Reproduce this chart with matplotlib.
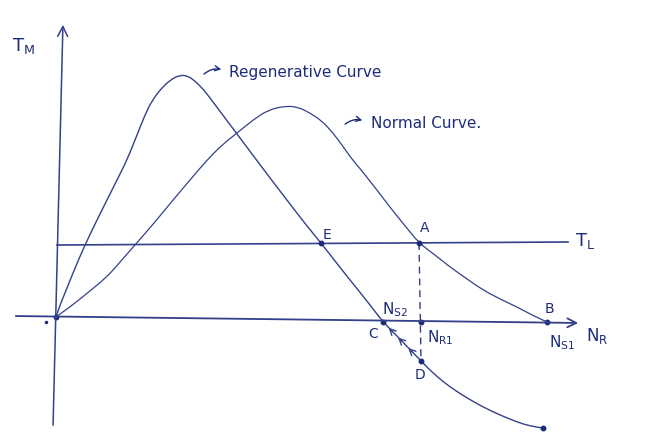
import numpy as np
import matplotlib.pyplot as plt
from matplotlib.path import Path
from matplotlib.patches import PathPatch

plt.rcParams['mathtext.default'] = 'regular'

# curves (pixel-like units, y grows downward)
regen_x = [56, 60, 65, 75, 85, 96, 107, 117, 127, 137, 147, 154, 160, 170, 180, 188, 195,
           204, 213, 225, 237, 252, 267, 280, 293, 307, 321, 335, 350, 367, 383, 400, 421,
           435, 450, 467, 483, 500, 517, 530, 543]
regen_y = [317, 305, 293, 268, 245, 222, 200, 180, 160, 135, 110, 98, 90, 80, 75, 76, 81,
           90, 102, 118, 134, 154, 174, 191, 208, 226, 243, 261, 280, 301, 322, 339, 361,
           375, 387, 398, 407, 415, 422, 426, 428]

normal_x = [56, 70, 85, 107, 120, 135, 155, 173, 190, 207, 222, 237, 253, 268, 285, 298,
            310, 322, 333, 342, 351, 362, 373, 383, 393, 406, 419, 435, 450, 467, 483, 500,
            517, 532, 547]
normal_y = [317, 307, 295, 277, 262, 245, 222, 200, 180, 160, 145, 133, 120, 110, 106, 107,
            113, 121, 133, 145, 158, 171, 185, 198, 211, 227, 243, 255, 267, 279, 290, 299,
            307, 315, 322]

# key points: name -> (x, y)
pts = {
    'O': (56, 317),
    'E': (321, 243),
    'A': (419, 243),
    'C': (383, 322),
    'NR1': (421, 322),
    'D': (421, 361),
    'B': (547, 322),
    'end': (543, 428),
}

line_c = '#33408a'
text_c = '#1d2c7a'


def smooth_path(xs, ys):
    """quadratic bezier through midpoints, so the sketch has no corners"""
    p = np.column_stack([xs, ys]).astype(float)
    verts = [p[0]]
    codes = [Path.MOVETO]
    for i in range(1, len(p) - 1):
        mid = (p[i] + p[i + 1]) / 2
        verts += [p[i], mid]
        codes += [Path.CURVE3, Path.CURVE3]
    verts.append(p[-1])
    codes.append(Path.LINETO)
    return Path(verts, codes)


fig = plt.figure(figsize=(6.58, 4.41), dpi=100)
ax = fig.add_axes([0, 0, 1, 1])
ax.set_xlim(0, 658)
ax.set_ylim(441, 0)
ax.axis('off')

# axes of the sketch
ax.annotate('', xy=(63, 22), xytext=(53, 428),
            arrowprops=dict(arrowstyle='->', color=line_c, lw=1.1, mutation_scale=18))
ax.annotate('', xy=(581, 323), xytext=(13, 316),
            arrowprops=dict(arrowstyle='->', color=line_c, lw=1.3, mutation_scale=16))
# load torque line
ax.plot([57, 568], [245, 242], color=line_c, lw=1.2)

# curves
ax.add_patch(PathPatch(smooth_path(regen_x, regen_y), fill=False, ec=line_c, lw=1.0))
ax.add_patch(PathPatch(smooth_path(normal_x, normal_y), fill=False, ec=line_c, lw=0.9))

# dashed A -> D
ax.plot([pts['A'][0], pts['D'][0]], [pts['A'][1], pts['D'][1]],
        color=line_c, lw=1.0, ls=(0, (5, 3.5)))

for k in ['O', 'E', 'A', 'C', 'NR1', 'D', 'B', 'end']:
    ax.plot(*pts[k], 'o', color=text_c, ms=3.2)
ax.plot(46, 322, 'o', color=text_c, ms=1.5)

# small arrows along regenerative curve between D and C (pointing back toward C)
cx, cy = pts['C']
dx, dy = pts['D']
for f in [0.2, 0.45, 0.72]:
    x0 = cx + f * (dx - cx)
    y0 = cy + f * (dy - cy)
    ax.annotate('', xy=(x0 - 4, y0 - 4), xytext=(x0 + 4, y0 + 4),
                arrowprops=dict(arrowstyle='->', color=line_c, lw=1.0, mutation_scale=11))

# curve labels with little curved arrows
ax.annotate('', xy=(224, 70), xytext=(202, 76),
            arrowprops=dict(arrowstyle='->', color=text_c, lw=1.0, mutation_scale=9,
                            connectionstyle='arc3,rad=-0.3'))
ax.text(229, 72, 'Regenerative Curve', color=text_c, fontsize=11, va='center')
ax.annotate('', xy=(365, 121), xytext=(343, 126),
            arrowprops=dict(arrowstyle='->', color=text_c, lw=1.0, mutation_scale=9,
                            connectionstyle='arc3,rad=-0.3'))
ax.text(371, 123, 'Normal Curve.', color=text_c, fontsize=11, va='center')

# point labels
kw = dict(color=text_c, ha='center', va='center')
ax.text(23, 46, 'T$_M$', fontsize=13, **kw)
ax.text(585, 241, 'T$_L$', fontsize=13, **kw)
ax.text(597, 336, 'N$_R$', fontsize=12, **kw)
ax.text(327, 235, 'E', fontsize=10, **kw)
ax.text(425, 228, 'A', fontsize=10, **kw)
ax.text(549, 309, 'B', fontsize=10, **kw)
ax.text(373, 334, 'C', fontsize=10, **kw)
ax.text(420, 375, 'D', fontsize=10, **kw)
ax.text(395, 310, 'N$_{S2}$', fontsize=11, **kw)
ax.text(440, 338, 'N$_{R1}$', fontsize=11, **kw)
ax.text(562, 343, 'N$_{S1}$', fontsize=11, **kw)

fig.savefig('out.png', dpi=100, facecolor='white')
